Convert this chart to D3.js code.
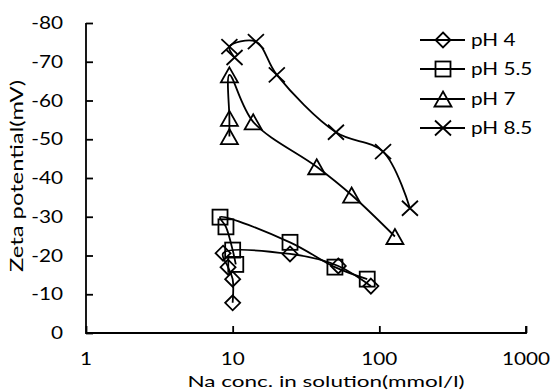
<!DOCTYPE html>
<html>
<head>
<meta charset="utf-8">
<style>
body { margin: 0; background: #fff; }
text { font-family: Lato, "Noto Sans", sans-serif; fill: #000; }
.mk { fill: none; stroke: #000; stroke-width: 1.8; }
.ln { fill: none; stroke: #000; stroke-width: 1.8; }
</style>
</head>
<body>
<svg id="chart" width="553" height="391"></svg>
<script src="https://d3js.org/d3.v7.min.js"></script>
<script>

// values, in drawing order
var seriesNames = ["pH 4", "pH 5.5", "pH 7", "pH 8.5"];
var ph4X  = [10, 10, 9.3, 8.6, 24.6, 52.5, 87.6];
var ph4Y  = [-7.8, -13.9, -17.0, -20.6, -20.4, -17.3, -12.1];
var ph55X = [10.5, 10, 9.0, 8.2, 24.6, 49.8, 82.7];
var ph55Y = [-17.7, -21.4, -27.4, -29.9, -23.4, -17.0, -13.9];
var ph7X  = [9.5, 9.5, 9.5, 13.8, 37.4, 64.7, 127.7];
var ph7Y  = [-50.7, -55.4, -66.6, -54.5, -42.9, -35.6, -24.9];
var ph85X = [10.3, 9.5, 14.4, 20, 50.6, 106, 161.7];
var ph85Y = [-71.1, -73.9, -75.2, -66.6, -51.8, -46.8, -32.2];
var xTicks = [1, 10, 100, 1000];
var yTicks = [0, -10, -20, -30, -40, -50, -60, -70, -80];

var svg = d3.select("#chart");
var pLeft = 86, pRight = 526, pTop = 23, pBottom = 333;
var stretch = 1.22;   // text in the picture is wide for its height

var x = d3.scaleLog().domain([1, 1000]).range([pLeft, pRight]);
var y = d3.scaleLinear().domain([0, -80]).range([pBottom, pTop]);

function label(tx, ty, str, anchor, k) {
  return svg.append("text")
    .attr("transform", "translate(" + tx + "," + ty + ") scale(" + (k || stretch) + ",1)")
    .attr("text-anchor", anchor).attr("font-size", 17)
    .text(str);
}

// axes, ticks pointing inward
svg.append("g")
  .attr("transform", "translate(0," + pBottom + ")")
  .call(d3.axisTop(x).tickValues(xTicks).tickSize(7).tickFormat(""))
  .call(g => g.select(".domain").remove());
svg.append("g")
  .attr("transform", "translate(" + pLeft + ",0)")
  .call(d3.axisRight(y).tickValues(yTicks).tickSize(7).tickFormat(""))
  .call(g => g.select(".domain").remove());
svg.selectAll(".tick line").attr("stroke", "#000").attr("stroke-width", 1.8);

svg.append("path")
  .attr("d", "M" + pLeft + "," + pTop + "V" + pBottom + "H" + pRight + "V" + (pBottom - 7))
  .attr("fill", "none").attr("stroke", "#000").attr("stroke-width", 1.8);

xTicks.forEach(d => label(x(d), 365, d, "middle"));
yTicks.forEach(d => label(63, y(d) + 6, d, "end"));

svg.append("text")
  .attr("x", 326).attr("y", 387)
  .attr("text-anchor", "middle").attr("font-size", 16)
  .attr("textLength", 277).attr("lengthAdjust", "spacingAndGlyphs")
  .text("Na conc. in solution(mmol/l)");
svg.append("text")
  .attr("transform", "translate(23,176) rotate(-90)")
  .attr("text-anchor", "middle").attr("font-size", 17)
  .attr("textLength", 192).attr("lengthAdjust", "spacingAndGlyphs")
  .text("Zeta potential(mV)");

// markers
function marker(g, kind, cx, cy) {
  if (kind === 0) {
    g.append("path").attr("class", "mk")
      .attr("d", "M" + cx + "," + (cy - 7.5) + "L" + (cx + 7.5) + "," + cy + "L" + cx + "," + (cy + 7.5) + "L" + (cx - 7.5) + "," + cy + "Z");
  } else if (kind === 1) {
    g.append("rect").attr("class", "mk")
      .attr("x", cx - 7.5).attr("y", cy - 7.5).attr("width", 15).attr("height", 15);
  } else if (kind === 2) {
    g.append("path").attr("class", "mk")
      .attr("d", "M" + cx + "," + (cy - 7.5) + "L" + (cx + 8.5) + "," + (cy + 7.5) + "L" + (cx - 8.5) + "," + (cy + 7.5) + "Z");
  } else {
    g.append("path").attr("class", "mk")
      .attr("d", "M" + (cx - 8) + "," + (cy - 7.5) + "L" + (cx + 8) + "," + (cy + 7.5) + "M" + (cx + 8) + "," + (cy - 7.5) + "L" + (cx - 8) + "," + (cy + 7.5));
  }
}

var allX = [ph4X, ph55X, ph7X, ph85X];
var allY = [ph4Y, ph55Y, ph7Y, ph85Y];
var line = d3.line().x(d => x(d[0])).y(d => y(d[1])).curve(d3.curveCatmullRom.alpha(0.5));

allX.forEach(function (xs, i) {
  var pts = xs.map((v, j) => [v, allY[i][j]]);
  var g = svg.append("g");
  g.append("path").attr("class", "ln").attr("d", line(pts));
  pts.forEach(p => marker(g, i, x(p[0]), y(p[1])));
});

// legend
var legRows = [40, 69, 99, 128];
seriesNames.forEach(function (name, i) {
  var g = svg.append("g");
  g.append("line").attr("x1", 420).attr("x2", 465)
    .attr("y1", legRows[i]).attr("y2", legRows[i])
    .attr("stroke", "#000").attr("stroke-width", 1.8);
  marker(g, i, 443, legRows[i]);
  label(471, legRows[i] + 6, name, "start");
});
</script>
</body>
</html>
